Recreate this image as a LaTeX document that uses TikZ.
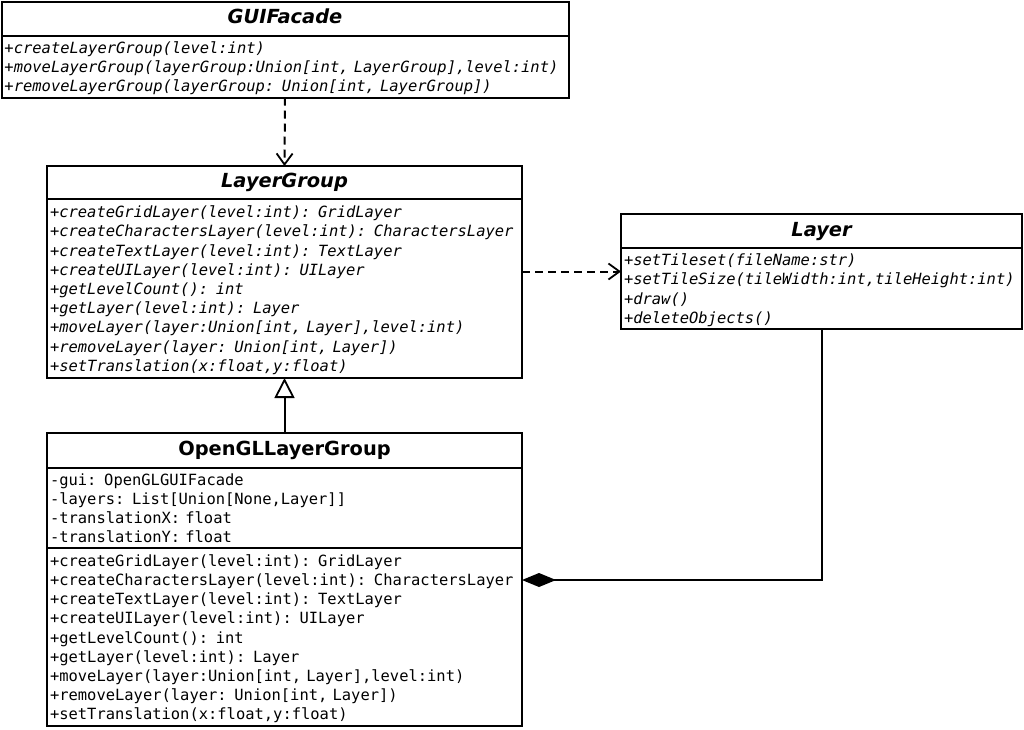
\documentclass[tikz,border=0pt]{standalone}
\usepackage{fontspec}
\setmainfont{DejaVu Sans}
\setsansfont{DejaVu Sans}
\setmonofont{DejaVu Sans Mono}
\usetikzlibrary{arrows.meta,calc,positioning}

\begin{document}
\begin{tikzpicture}[
  x=1pt, y=-1pt,
  classtitle/.style={draw=black, line width=2pt, anchor=north west, inner sep=0pt,
                     outer sep=0pt, text height=14pt, text depth=4pt,
                     font=\fontsize{19.4}{23}\selectfont\bfseries},
  members/.style={draw=black, line width=2pt, anchor=north west, inner xsep=3pt,
                  inner ysep=0pt, outer sep=0pt, align=left, text height=16pt,
                  font=\fontsize{15.45}{19.2}\selectfont\ttfamily},
  dep/.style={line width=2pt, dash pattern=on 8pt off 5pt,
              -{Straight Barb[length=11pt,width=16pt,line width=1.8pt]}},
  gen/.style={line width=2pt, -{Triangle[open,length=20pt,width=20pt,line width=1.8pt]}},
  comp/.style={line width=2pt, {Diamond[length=34pt,width=14pt]}-},
]
\useasboundingbox (0,0) rectangle (1024,729);

% ---- GUIFacade ----
\node[classtitle, minimum width=567pt, minimum height=34pt] (gui) at (1.5,1.5)
  {\itshape GUIFacade};
\node[members, text width=561pt, text depth=42.4pt, minimum height=62pt] (guiops)
  at (gui.south west)
  {\itshape +createLayerGroup(level:int)\\
   \itshape +moveLayerGroup(layerGroup:Union[int, LayerGroup],level:int)\\
   \itshape +removeLayerGroup(layerGroup: Union[int, LayerGroup])};

% ---- LayerGroup ----
\node[classtitle, minimum width=475pt, minimum height=33pt] (lgroup) at (47,166)
  {\itshape LayerGroup};
\node[members, text width=469pt, text depth=157.6pt, minimum height=179pt] (lgroupops)
  at (lgroup.south west)
  {\itshape +createGridLayer(level:int): GridLayer\\
   \itshape +createCharactersLayer(level:int): CharactersLayer\\
   \itshape +createTextLayer(level:int): TextLayer\\
   \itshape +createUILayer(level:int): UILayer\\
   \itshape +getLevelCount(): int\\
   \itshape +getLayer(level:int): Layer\\
   \itshape +moveLayer(layer:Union[int, Layer],level:int)\\
   \itshape +removeLayer(layer: Union[int, Layer])\\
   \itshape +setTranslation(x:float,y:float)};

% ---- Layer ----
\node[classtitle, minimum width=401pt, minimum height=34pt] (layer) at (621,214)
  {\itshape Layer};
\node[members, text width=395pt, text depth=61.6pt, minimum height=81pt] (layerops)
  at (layer.south west)
  {\itshape +setTileset(fileName:str)\\
   \itshape +setTileSize(tileWidth:int,tileHeight:int)\\
   \itshape +draw()\\
   \itshape +deleteObjects()};

% ---- OpenGLLayerGroup ----
\node[classtitle, minimum width=475pt, minimum height=35pt] (gllg) at (47,433)
  {OpenGLLayerGroup};
\node[members, text width=469pt, text depth=61.6pt, minimum height=80pt] (glattrs)
  at (gllg.south west)
  {-gui: OpenGLGUIFacade\\
   -layers: List[Union[None,Layer]]\\
   -translationX: float\\
   -translationY: float};
\node[members, text width=469pt, text depth=157.6pt, minimum height=178pt] (glops)
  at (glattrs.south west)
  {+createGridLayer(level:int): GridLayer\\
   +createCharactersLayer(level:int): CharactersLayer\\
   +createTextLayer(level:int): TextLayer\\
   +createUILayer(level:int): UILayer\\
   +getLevelCount(): int\\
   +getLayer(level:int): Layer\\
   +moveLayer(layer:Union[int, Layer],level:int)\\
   +removeLayer(layer: Union[int, Layer])\\
   +setTranslation(x:float,y:float)};

% ---- relations ----
\coordinate (layerin) at ($(layer.north west)!.5!(layerops.south west)$);
\coordinate (glin) at ([yshift=-32pt]glops.north east);
\draw[dep] (guiops.south) -- (lgroup.north);
\draw[dep] (lgroupops.east |- layerin) -- (layerin);
\draw[gen] (gllg.north) -- (lgroupops.south);
\draw[comp] (glin) -| (layerops.south);

\end{tikzpicture}
\end{document}
